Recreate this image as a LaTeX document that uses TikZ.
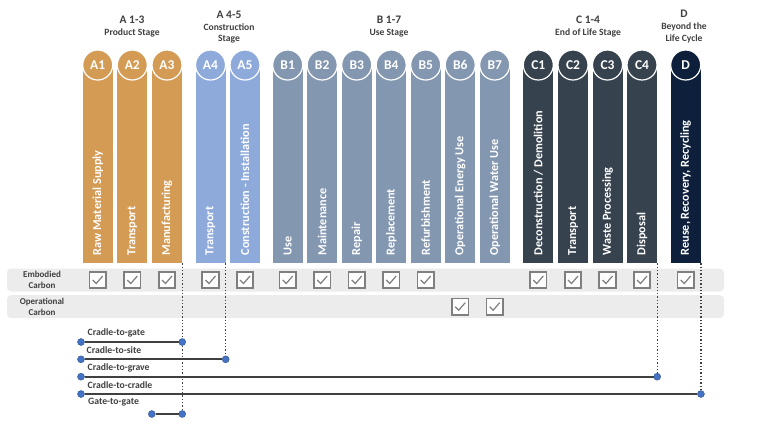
\documentclass[tikz,border=0pt]{standalone}
\usepackage{fontspec}
\setmainfont{Carlito}
\definecolor{ca}{HTML}{D49B54}
\definecolor{cb}{HTML}{8EAADB}
\definecolor{cc}{HTML}{8497B0}
\definecolor{cd}{HTML}{36424E}
\definecolor{ce}{HTML}{0E1F3B}
\definecolor{txt}{HTML}{404040}
\definecolor{bandgray}{HTML}{ECECEC}
\definecolor{boxgray}{HTML}{7F7F7F}
\definecolor{dotblue}{HTML}{4472C4}
\newcommand\stagecol[5]{%
  \node[colbox,fill=#3] (col#1) at (#2,65) {};
  \node[circ,fill=#3] (c#1) at (#2,65) {#4};
  \node[coltext] (t#1) at (#2,255.5) {#5};
}
\newcommand\ckbox[3]{%
  \node[cbox] (#1) at (#2,#3) {};
  \draw[chk] (#2-5,#3) -- (#2-1.5,#3+3.5) -- (#2+5,#3-4);
}
\begin{document}
\begin{tikzpicture}[x=1pt,y=-1pt,
  colbox/.style={draw=none,minimum width=30pt,minimum height=198pt,anchor=north,inner sep=0pt},
  circ/.style={circle,draw=white,line width=1.2pt,minimum size=30pt,inner sep=0pt,text=white,font=\bfseries\fontsize{13.5}{13.5}\selectfont},
  coltext/.style={rotate=90,anchor=west,text=white,font=\bfseries\fontsize{12.2}{13}\selectfont,inner sep=0pt},
  band/.style={fill=bandgray,draw=none,rounded corners=4pt,minimum width=717pt,minimum height=23pt,inner sep=0pt},
  rowlab/.style={text=txt,align=center,font=\bfseries\fontsize{9}{10.5}\selectfont,inner sep=0pt},
  cbox/.style={draw=boxgray,line width=1.8pt,fill=white!92!bandgray,minimum size=16.5pt,inner sep=0pt},
  chk/.style={draw=boxgray,line width=1.2pt},
  hd/.style={text=txt,font=\bfseries\fontsize{11.5}{12}\selectfont,inner sep=0pt},
  hdsub/.style={text=txt,font=\bfseries\fontsize{9.6}{10}\selectfont,inner sep=0pt},
  linelab/.style={text=txt,anchor=west,font=\bfseries\fontsize{9.7}{10}\selectfont,inner sep=0pt},
  pathline/.style={draw=txt,line width=1.8pt},
  dotline/.style={draw=txt,line width=1.3pt,dotted},
  bdot/.style={circle,fill=dotblue,draw=dotblue!70!black,line width=0.4pt,minimum size=7pt,inner sep=0pt}
]
\useasboundingbox (0,0) rectangle (768,432);

% headers
\node[hd] (hA13) at (132,20) {A 1-3};
\node[hdsub] (hA13s) at (132,33) {Product Stage};
\node[hd] (hA45) at (229,15) {A 4-5};
\node[hdsub] (hA45s) at (229,27) {Construction};
\node[hdsub] (hA45t) at (229,39) {Stage};
\node[hd] (hB) at (389,20) {B 1-7};
\node[hdsub] (hBs) at (389,33) {Use Stage};
\node[hd] (hC) at (588,20) {C 1-4};
\node[hdsub] (hCs) at (588,33) {End of Life Stage};
\node[hd] (hD) at (684,14) {D};
\node[hdsub] (hDs) at (684,27) {Beyond the};
\node[hdsub] (hDt) at (684,39) {Life Cycle};

% columns
\stagecol{A1}{97.7}{ca}{A1}{Raw Material Supply}
\stagecol{A2}{132.3}{ca}{A2}{Transport}
\stagecol{A3}{167}{ca}{A3}{Manufacturing}
\stagecol{A4}{210.5}{cb}{A4}{Transport}
\stagecol{A5}{245}{cb}{A5}{Construction - Installation}
\stagecol{B1}{287.7}{cc}{B1}{Use}
\stagecol{B2}{322.2}{cc}{B2}{Maintenance}
\stagecol{B3}{356.7}{cc}{B3}{Repair}
\stagecol{B4}{391.2}{cc}{B4}{Replacement}
\stagecol{B5}{425.7}{cc}{B5}{Refurbishment}
\stagecol{B6}{460.2}{cc}{B6}{Operational Energy Use}
\stagecol{B7}{494.7}{cc}{B7}{Operational Water Use}
\stagecol{C1}{538.3}{cd}{C1}{Deconstruction / Demolition}
\stagecol{C2}{573}{cd}{C2}{Transport}
\stagecol{C3}{607.5}{cd}{C3}{Waste Processing}
\stagecol{C4}{642}{cd}{C4}{Disposal}
\stagecol{D}{685.7}{ce}{D}{Reuse, Recovery, Recycling}

% rows
\node[band] (emb) at (365.5,280) {};
\node[band] (ope) at (365.5,306.7) {};
\node[rowlab] (embl) at (42,280) {Embodied\\Carbon};
\node[rowlab] (opel) at (42,306.7) {Operational\\Carbon};

% check boxes
\ckbox{kA1}{97.7}{280}
\ckbox{kA2}{132.3}{280}
\ckbox{kA3}{167}{280}
\ckbox{kA4}{210.5}{280}
\ckbox{kA5}{245}{280}
\ckbox{kB1}{287.7}{280}
\ckbox{kB2}{322.2}{280}
\ckbox{kB3}{356.7}{280}
\ckbox{kB4}{391.2}{280}
\ckbox{kB5}{425.7}{280}
\ckbox{kC1}{538.3}{280}
\ckbox{kC2}{573}{280}
\ckbox{kC3}{607.5}{280}
\ckbox{kC4}{642}{280}
\ckbox{kD}{685.7}{280}
\ckbox{kB6}{460.2}{306.7}
\ckbox{kB7}{494.7}{306.7}

% scope lines
\node[linelab] (l1) at (87.5,333) {Cradle-to-gate};
\node[linelab] (l2) at (86.5,350.5) {Cradle-to-site};
\node[linelab] (l3) at (87.5,368) {Cradle-to-grave};
\node[linelab] (l4) at (87.5,385) {Cradle-to-cradle};
\node[linelab] (l5) at (88,402.5) {Gate-to-gate};

\coordinate (e1) at (colA3.south east |- 0,342);
\coordinate (e2) at (colA4.south east |- 0,359.3);
\coordinate (e3) at (colC4.south east |- 0,376.7);
\coordinate (e4) at (colD.south east |- 0,394);
\coordinate (e5) at (colA3.south east |- 0,414);
\coordinate (s5) at (colA3.south west |- 0,414);

\draw[dotline] (colA3.south east) -- (e5);
\draw[dotline] (colA4.south east) -- (e2);
\draw[dotline] (colC4.south east) -- (e3);
\draw[dotline] (colD.south east) -- (e4);

\node[bdot] (d1a) at (81,342) {};
\node[bdot] (d2a) at (81,359.3) {};
\node[bdot] (d3a) at (81,376.7) {};
\node[bdot] (d4a) at (81,394) {};
\node[bdot] (d5a) at (s5) {};
\node[bdot] (d1b) at (e1) {};
\node[bdot] (d2b) at (e2) {};
\node[bdot] (d3b) at (e3) {};
\node[bdot] (d4b) at (e4) {};
\node[bdot] (d5b) at (e5) {};

\draw[pathline] (d1a) -- (d1b);
\draw[pathline] (d2a) -- (d2b);
\draw[pathline] (d3a) -- (d3b);
\draw[pathline] (d4a) -- (d4b);
\draw[pathline] (d5a) -- (d5b);
\end{tikzpicture}
\end{document}
